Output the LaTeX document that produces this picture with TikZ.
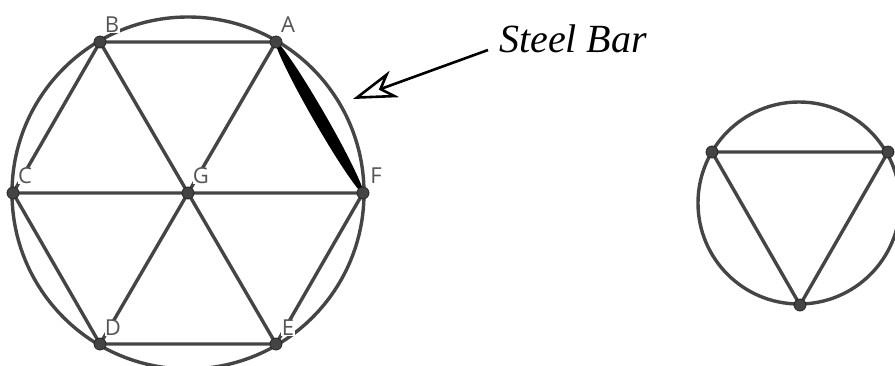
\documentclass[tikz,border=0pt]{standalone}
\usepackage{fontspec}
\setmainfont{Liberation Serif}
\newfontfamily\labfont{Open Sans}
\usetikzlibrary{arrows.meta}
\definecolor{edgegray}{HTML}{454545}
\definecolor{dotgray}{HTML}{444444}
\definecolor{labgray}{HTML}{555555}
\begin{document}
\begin{tikzpicture}[x=1pt,y=-1pt,
  edge/.style={draw=edgegray,line width=3.4pt},
  rim/.style={draw=edgegray,line width=3.4pt},
  bar/.style={draw=black,fill=black,line width=2pt,line cap=round,line join=round},
  pt/.style={circle,fill=dotgray,draw=black!85,line width=0.8pt,inner sep=0pt,minimum size=12pt},
  lab/.style={font=\labfont\fontsize{22}{24}\selectfont,text=labgray,fill=white,inner sep=0.4pt},
  callout/.style={draw=black,line width=2.6pt,-{Stealth[open,length=44pt,width=28pt,inset=13pt]}}]
\useasboundingbox (0,0) rectangle (895,365);
% left hexagon
\coordinate (A) at (276,42);
\coordinate (B) at (100,42);
\coordinate (C) at (13,193);
\coordinate (G) at (188,193);
\coordinate (F) at (363,193);
\coordinate (D) at (100,344);
\coordinate (E) at (276,344);
\draw[rim] (G) circle[radius=176];
\draw[edge] (B)--(A) (B)--(C) (B)--(G) (A)--(G) (C)--(G)--(F) (C)--(D) (D)--(G) (G)--(E) (D)--(E) (E)--(F);
\draw[bar] (A) .. controls (295.11,61.15) and (356.01,166.85) .. (F)
               .. controls (343.89,173.85) and (282.99,68.15) .. (A) -- cycle;
\node[lab] (lB) at (112,25) {B};
\node[lab] (lA) at (288,25) {A};
\node[lab] (lC) at (25,176) {C};
\node[lab] (lG) at (201,176) {G};
\node[lab] (lF) at (376,176) {F};
\node[lab] (lD) at (113,328) {D};
\node[lab] (lE) at (288,328) {E};
\foreach \p in {A,B,C,D,E,F,G} \node[pt] (d\p) at (\p) {};
% callout
\node[anchor=base west,inner sep=0pt,font=\itshape\fontsize{40}{44}\selectfont] (steel) at (499,52) {Steel Bar};
\coordinate (tail) at (488,50);
\coordinate (tip) at (353,99);
\draw[callout] (tail) -- (tip);
% right triangle
\coordinate (P) at (712,152);
\coordinate (Q) at (888,152);
\coordinate (R) at (800,305);
\coordinate (O) at (799,203);
\draw[rim] (O) circle[radius=101];
\draw[edge] (P)--(Q)--(R)--cycle;
\foreach \p in {P,Q,R} \node[pt] (d\p) at (\p) {};
\end{tikzpicture}
\end{document}
